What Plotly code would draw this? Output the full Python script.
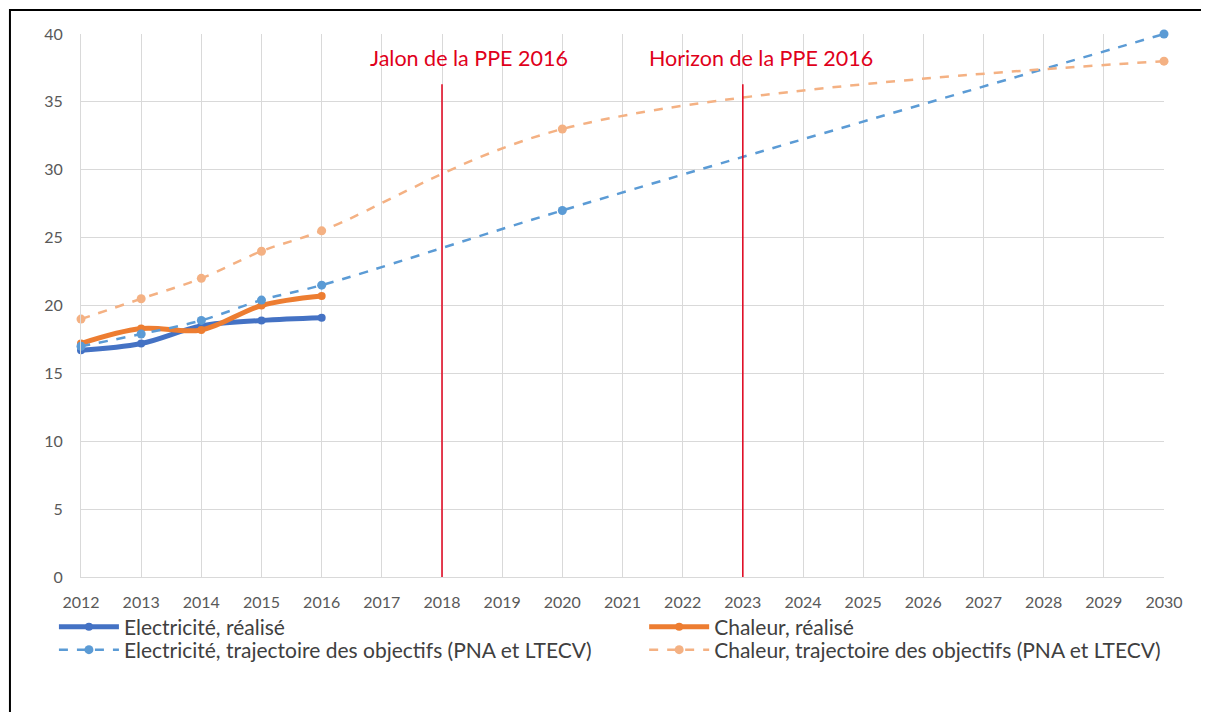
import plotly.graph_objects as go

# data (share of renewables, %)
years_real = [2012, 2013, 2014, 2015, 2016]
elec_real = [16.7, 17.2, 18.5, 18.9, 19.1]
chal_real = [17.2, 18.3, 18.2, 20.0, 20.7]

years_traj = [2012, 2013, 2014, 2015, 2016, 2020, 2030]
elec_traj = [17.0, 17.9, 18.9, 20.4, 21.5, 27.0, 40.0]
chal_traj = [19.0, 20.5, 22.0, 24.0, 25.5, 33.0, 38.0]

milestone_years = [2018, 2023]
milestone_labels = ["Jalon de la PPE 2016", "Horizon de la PPE 2016"]
milestone_top = 36.3

x_ticks = list(range(2012, 2031))
y_ticks = [0, 5, 10, 15, 20, 25, 30, 35, 40]

_FONT = "Lato, Carlito, Calibri, sans-serif"
_GRID = "#d9d9d9"
_RED = "#e0001b"

fig = go.Figure()

fig.add_trace(go.Scatter(
    x=years_real, y=elec_real, name="Electricité, réalisé", legend="legend",
    mode="lines+markers", line=dict(color="#4472c4", width=5, shape="spline"),
    marker=dict(size=8, color="#4472c4"), cliponaxis=False,
))
fig.add_trace(go.Scatter(
    x=years_real, y=chal_real, name="Chaleur, réalisé", legend="legend2",
    mode="lines+markers", line=dict(color="#ed7d31", width=5, shape="spline"),
    marker=dict(size=8, color="#ed7d31"), cliponaxis=False,
))
fig.add_trace(go.Scatter(
    x=years_traj, y=elec_traj, name="Electricité, trajectoire des objectifs (PNA et LTECV)",
    legend="legend3", mode="lines+markers",
    line=dict(color="#5b9bd5", width=2.5, dash="dash", shape="spline"),
    marker=dict(size=9, color="#5b9bd5"), cliponaxis=False,
))
fig.add_trace(go.Scatter(
    x=years_traj, y=chal_traj, name="Chaleur, trajectoire des objectifs (PNA et LTECV)",
    legend="legend4", mode="lines+markers",
    line=dict(color="#f4b183", width=2.5, dash="dash", shape="spline"),
    marker=dict(size=9, color="#f4b183"), cliponaxis=False,
))

shapes = []
annotations = []
for yr, lab, dx in zip(milestone_years, milestone_labels, [0.45, 0.3]):
    shapes.append(dict(type="line", xref="x", yref="y", x0=yr, x1=yr,
                       y0=0, y1=milestone_top, line=dict(color=_RED, width=1.5)))
    annotations.append(dict(x=yr + dx, y=38.2, xref="x", yref="y", text=lab,
                            showarrow=False, xanchor="center", yanchor="middle",
                            font=dict(color=_RED, size=21.5, family=_FONT)))

# black frame around the picture (cut on the right and bottom like the source)
shapes.append(dict(type="rect", xref="paper", yref="paper",
                   x0=-0.0656, x1=1.2, y0=-0.5, y1=1.0442,
                   line=dict(color="black", width=2), fillcolor="rgba(0,0,0,0)",
                   layer="above"))

# one legend per entry so the 2x2 grid sits where the source puts it
_leg = dict(orientation="v", xanchor="left", yanchor="middle",
            itemwidth=60, bgcolor="rgba(0,0,0,0)",
            font=dict(size=21, color="#404040", family=_FONT))
row1, row2 = -0.0921, -0.1344
col1, col2 = -0.025, 0.52

# the page puts the figure 8px in from the top-left corner
fig.update_layout(
    width=1201, height=704,
    margin=dict(l=73, r=45, t=26, b=135),
    paper_bgcolor="white", plot_bgcolor="white",
    font=dict(family=_FONT, color="#595959", size=16),
    shapes=shapes, annotations=annotations, showlegend=True,
    legend=dict(_leg, x=col1, y=row1),
    legend2=dict(_leg, x=col2, y=row1),
    legend3=dict(_leg, x=col1, y=row2),
    legend4=dict(_leg, x=col2, y=row2),
)
fig.update_xaxes(
    range=[2012, 2030], tickvals=x_ticks, ticktext=[str(v) for v in x_ticks],
    showgrid=True, gridcolor=_GRID, gridwidth=1, zeroline=False,
    showline=True, linecolor=_GRID, ticks="", tickfont=dict(size=16),
    ticklabelstandoff=11,
)
fig.update_yaxes(
    range=[0, 40], tickvals=y_ticks, showgrid=True, gridcolor=_GRID, gridwidth=1,
    zeroline=False, showline=True, linecolor=_GRID, ticks="",
    tickfont=dict(size=16), ticklabelstandoff=14,
)

fig.write_html("out.html")
